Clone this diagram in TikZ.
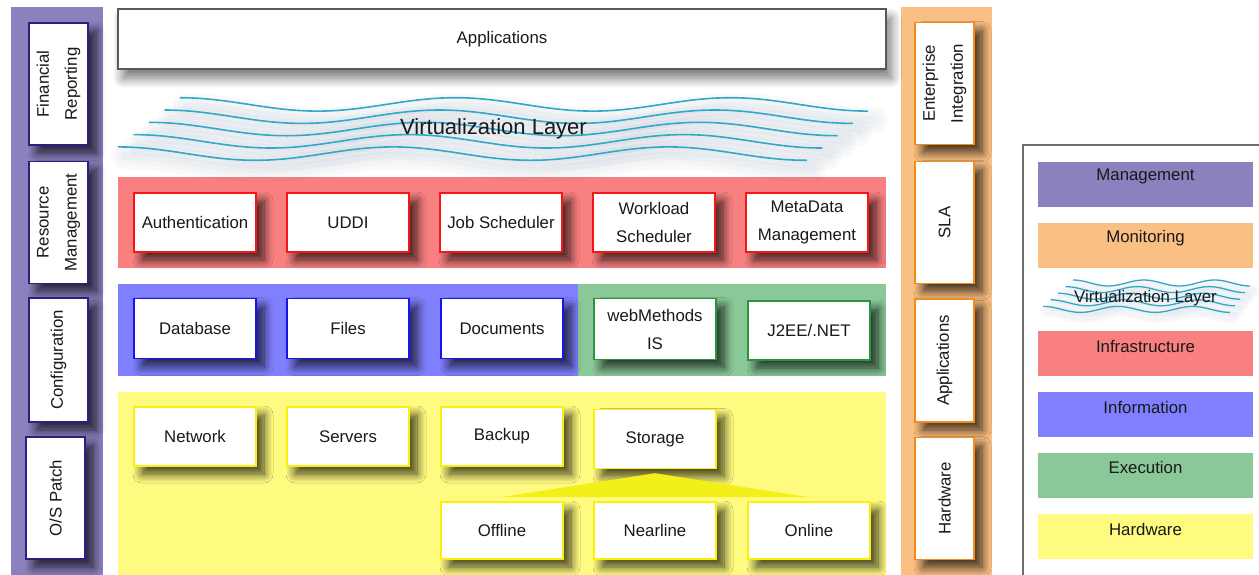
\documentclass[tikz,border=0pt]{standalone}
\usepackage{fontspec}
\setmainfont{Liberation Sans}
\usetikzlibrary{shadows.blur}

\definecolor{mgmt}{RGB}{140,128,190}
\definecolor{mgmtline}{RGB}{45,30,130}
\definecolor{monit}{RGB}{250,191,130}
\definecolor{monitline}{RGB}{245,140,25}
\definecolor{infra}{RGB}{248,128,128}
\definecolor{infraline}{RGB}{250,20,20}
\definecolor{inform}{RGB}{128,128,255}
\definecolor{informline}{RGB}{20,20,240}
\definecolor{exec}{RGB}{138,200,152}
\definecolor{execline}{RGB}{40,150,60}
\definecolor{hw}{RGB}{255,250,128}
\definecolor{hwline}{RGB}{252,240,10}
\definecolor{hwtri}{RGB}{243,240,25}
\definecolor{wavec}{RGB}{50,168,200}
\definecolor{hazec}{RGB}{90,110,140}
\definecolor{frame}{RGB}{110,110,110}

\begin{document}
\begin{tikzpicture}[x=1pt,y=-1pt,
  every node/.style={font=\fontsize{16.8}{28}\selectfont, text=black!90},
  card/.style={draw=#1, fill=white, line width=1.4pt,
    minimum width=122pt, minimum height=59pt, inner sep=2pt, align=center,
    blur shadow={shadow xshift=8pt, shadow yshift=-8pt,
      shadow blur radius=9pt, shadow blur steps=10, shadow opacity=75}},
  sidecard/.style={card=#1, rotate=90},
  appbox/.style={draw=black!65, fill=white, line width=1.6pt,
    minimum width=768pt, minimum height=60pt,
    blur shadow={shadow xshift=5pt, shadow yshift=-9pt,
      shadow blur radius=10pt, shadow blur steps=10, shadow opacity=55}},
  legfill/.style={fill=#1, minimum width=215pt, minimum height=45pt, inner sep=0pt},
  legtext/.style={inner sep=0pt},
  wave/.style={draw=wavec, line width=1.6pt},
  haze/.style={draw=hazec, opacity=0.04, line cap=round},
]
\useasboundingbox (0,0) rectangle (1259,574);

% side columns and layer bands
\fill[mgmt] (11,7) rectangle (103,578);
\fill[monit] (901,7) rectangle (992,578);
\fill[infra] (118,177) rectangle (886,268);
\fill[inform] (118,284) rectangle (578,376);
\fill[exec] (578,284) rectangle (886,376);
\fill[hw] (118,392) rectangle (886,578);

% application layer
\node[appbox] (apps) at (502,39) {Applications};

% virtualization layer: soft shadow, then the wave lines
\foreach \i in {0,...,4} {
  \pgfmathsetmacro\xs{180-15.5*\i}
  \pgfmathsetmacro\xe{868-15.25*\i}
  \pgfmathsetmacro\yo{97.7+12.3*\i}
  \foreach \w in {26,17,8} {
    \draw[haze, line width=\w pt] plot[domain=\xs+6:\xe+6, samples=90, smooth]
      (\x, {\yo + 9 + 6.7*(1-cos((\x-6-\xs)/275.2*360))});
  }
}
\foreach \i in {0,...,4} {
  \pgfmathsetmacro\xs{180-15.5*\i}
  \pgfmathsetmacro\xe{868-15.25*\i}
  \pgfmathsetmacro\yo{97.7+12.3*\i}
  \draw[wave] plot[domain=\xs:\xe, samples=120, smooth]
    (\x, {\yo + 6.7*(1-cos((\x-\xs)/275.2*360))});
}
\node[font=\fontsize{22}{26}\selectfont] (virt) at (493.5,129) {Virtualization Layer};

% infrastructure
\node[card=infraline] (auth) at (195,222.5) {Authentication};
\node[card=infraline] (uddi) at (348,222.5) {UDDI};
\node[card=infraline] (jobs) at (501,222.5) {Job Scheduler};
\node[card=infraline] (work) at (654,222.5) {Workload\\Scheduler};
\node[card=infraline] (meta) at (807,222.5) {MetaData\\Management};

% information and execution
\node[card=informline, minimum height=60pt] (db) at (195,328.5) {Database};
\node[card=informline, minimum height=60pt] (files) at (348,328.5) {Files};
\node[card=informline, minimum height=60pt] (docs) at (502,328.5) {Documents};
\node[card=execline, minimum height=61pt] (wm) at (655,329) {webMethods\\IS};
\node[card=execline, minimum height=59pt] (j2ee) at (809,330.5) {J2EE/.NET};

% hardware
\coordinate (triL) at (502,497);
\coordinate (triR) at (808,497);
\node[card=hwline] (net) at (195,436.5) {Network};
\node[card=hwline] (serv) at (348,436.5) {Servers};
\node[card=hwline] (back) at (502,436.5) {Backup};
\node[card=hwline] (stor) at (655,439) {Storage};
\fill[hwtri] ([yshift=-4pt]stor.south) -- (triR) -- (triL) -- cycle;
\node[card=hwline, minimum height=57pt] (off) at (502,530.5) {Offline};
\node[card=hwline, minimum height=57pt] (near) at (655,530.5) {Nearline};
\node[card=hwline, minimum height=57pt] (onl) at (809,530.5) {Online};

% management column
\node[sidecard=mgmtline] (fin) at (58.5,84) {Financial\\Reporting};
\node[sidecard=mgmtline] (res) at (58.5,222.5) {Resource\\Management};
\node[sidecard=mgmtline, minimum width=124pt] (conf) at (58.5,360) {Configuration};
\node[sidecard=mgmtline] (os) at (55.5,498) {O/S Patch};

% monitoring column
\node[sidecard=monitline] (ent) at (944.5,83.5) {Enterprise\\Integration};
\node[sidecard=monitline] (sla) at (944.5,222.5) {SLA};
\node[sidecard=monitline, minimum width=123pt] (appm) at (944.5,360.5) {Applications};
\node[sidecard=monitline] (hwm) at (944.5,498.5) {Hardware};

% legend
\draw[frame, line width=2pt] (1023,145) rectangle (1264,580);
\node[legfill=mgmt] (lmg) at (1145.5,184.5) {};
\node[legtext] at ([yshift=-15pt]lmg.north) {Management};
\node[legfill=monit] (lmo) at (1145.5,245.5) {};
\node[legtext] at ([yshift=-15pt]lmo.north) {Monitoring};
\foreach \i in {0,...,4} {
  \pgfmathsetmacro\xs{1073-7.5*\i}
  \pgfmathsetmacro\xe{1250-5*\i}
  \pgfmathsetmacro\yo{280+6.6*\i}
  \pgfmathsetmacro\per{(\xe-\xs)/2.5}
  \foreach \w in {12,7} {
    \draw[haze, line width=\w pt] plot[domain=\xs+3:\xe+3, samples=50, smooth]
      (\x, {\yo + 5 + 3*(1-cos((\x-3-\xs)/\per*360))});
  }
}
\foreach \i in {0,...,4} {
  \pgfmathsetmacro\xs{1073-7.5*\i}
  \pgfmathsetmacro\xe{1250-5*\i}
  \pgfmathsetmacro\yo{280+6.6*\i}
  \pgfmathsetmacro\per{(\xe-\xs)/2.5}
  \draw[wave, line width=1.3pt] plot[domain=\xs:\xe, samples=60, smooth]
    (\x, {\yo + 3*(1-cos((\x-\xs)/\per*360))});
}
\node[legtext] (lvi) at (1145.5,298) {Virtualization Layer};
\node[legfill=infra] (lin) at (1145.5,353) {};
\node[legtext] at ([yshift=-16pt]lin.north) {Infrastructure};
\node[legfill=inform] (lif) at (1145.5,414.5) {};
\node[legtext] at ([yshift=-16pt]lif.north) {Information};
\node[legfill=exec] (lex) at (1145.5,475.5) {};
\node[legtext] at ([yshift=-15pt]lex.north) {Execution};
\node[legfill=hw] (lhw) at (1145.5,536.5) {};
\node[legtext] at ([yshift=-16pt]lhw.north) {Hardware};
\end{tikzpicture}
\end{document}
